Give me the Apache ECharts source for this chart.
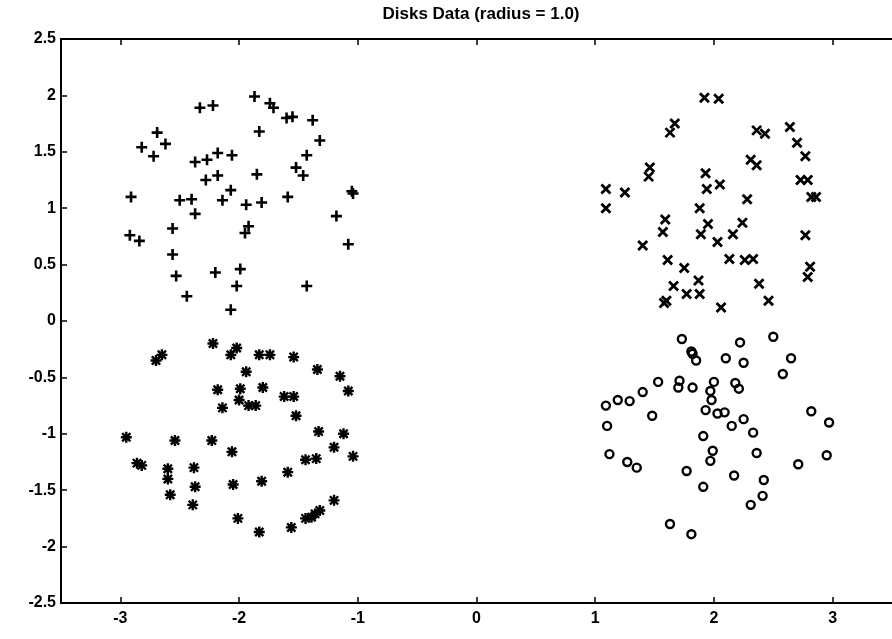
<!DOCTYPE html>
<html>
<head>
<meta charset="utf-8">
<script src="https://cdn.jsdelivr.net/npm/echarts@6/dist/echarts.min.js"></script>
<style>
html,body{margin:0;padding:0;background:#fff;}
#c{width:892px;height:639px;}
</style>
</head>
<body>
<div id="c"></div>
<script>
const titleText = 'Disks Data (radius = 1.0)';
const xTicks = [-3, -2, -1, 0, 1, 2, 3];
const yTicks = [-2.5, -2, -1.5, -1, -0.5, 0, 0.5, 1, 1.5, 2, 2.5];

// upper-left disk, "+" markers
const plusData = [
  [-1.87,1.99],[-2.33,1.89],[-2.22,1.91],[-1.74,1.93],[-1.71,1.89],[-1.60,1.80],[-1.55,1.81],[-1.38,1.78],
  [-2.69,1.67],[-1.83,1.68],[-2.62,1.57],[-2.82,1.54],[-1.32,1.60],[-2.72,1.46],[-2.37,1.41],[-2.27,1.43],
  [-2.18,1.49],[-2.06,1.47],[-1.43,1.47],[-1.52,1.36],[-1.46,1.29],[-1.85,1.30],[-2.18,1.29],[-2.28,1.25],
  [-2.07,1.16],[-1.05,1.15],[-1.04,1.13],[-2.91,1.10],[-2.50,1.07],[-2.40,1.08],[-2.14,1.07],[-1.94,1.03],
  [-1.81,1.05],[-1.59,1.10],[-2.37,0.95],[-1.18,0.93],[-2.56,0.82],[-1.92,0.84],[-1.95,0.78],[-2.92,0.76],
  [-2.84,0.71],[-1.08,0.68],[-2.56,0.59],[-2.53,0.40],[-2.20,0.43],[-1.99,0.46],[-2.02,0.31],[-1.43,0.31],
  [-2.44,0.22],[-2.07,0.10]
];

// lower-left disk, "*" markers
const starData = [
  [-2.22,-0.20],[-2.02,-0.24],[-2.07,-0.30],[-2.65,-0.30],[-2.70,-0.35],[-1.83,-0.30],[-1.74,-0.30],[-1.54,-0.32],
  [-1.94,-0.45],[-1.34,-0.43],[-1.15,-0.49],[-2.18,-0.61],[-1.99,-0.60],[-1.80,-0.59],[-2.00,-0.70],[-1.92,-0.75],
  [-1.86,-0.75],[-1.62,-0.67],[-1.54,-0.67],[-1.08,-0.62],[-2.14,-0.77],[-1.52,-0.84],[-1.33,-0.98],[-1.12,-1.00],
  [-2.95,-1.03],[-2.54,-1.06],[-2.23,-1.06],[-2.06,-1.16],[-1.20,-1.12],[-1.04,-1.20],[-2.86,-1.26],[-2.82,-1.28],
  [-1.44,-1.23],[-1.35,-1.22],[-2.60,-1.31],[-2.60,-1.40],[-2.38,-1.30],[-1.59,-1.34],[-1.81,-1.42],[-2.37,-1.47],
  [-2.05,-1.45],[-2.58,-1.54],[-2.39,-1.63],[-1.20,-1.59],[-2.01,-1.75],[-1.83,-1.87],[-1.56,-1.83],[-1.44,-1.75],
  [-1.39,-1.74],[-1.32,-1.68],[-1.36,-1.71]
];

// upper-right disk, "x" markers
const crossData = [
  [1.92,1.98],[2.04,1.97],[1.67,1.75],[1.63,1.67],[2.36,1.69],[2.43,1.66],[2.64,1.72],[2.70,1.58],
  [2.77,1.46],[1.46,1.36],[1.45,1.28],[2.31,1.43],[2.36,1.38],[1.93,1.31],[2.73,1.25],[2.79,1.25],
  [1.09,1.17],[1.25,1.14],[1.94,1.17],[2.05,1.21],[2.82,1.10],[2.86,1.10],[1.09,1.00],[1.88,1.00],
  [2.28,1.08],[1.59,0.90],[1.57,0.79],[1.95,0.86],[1.89,0.77],[2.24,0.87],[2.16,0.77],[2.03,0.70],
  [2.77,0.76],[1.40,0.67],[1.61,0.54],[2.13,0.55],[2.26,0.54],[2.33,0.55],[1.75,0.47],[1.66,0.31],
  [1.87,0.36],[1.77,0.24],[1.88,0.24],[1.60,0.18],[2.06,0.12],[2.38,0.33],[2.46,0.18],[2.81,0.48],
  [2.79,0.39],[1.58,0.16]
];

// lower-right disk, "o" markers
const circleData = [
  [1.73,-0.16],[2.22,-0.19],[2.50,-0.14],[1.81,-0.27],[1.82,-0.29],[1.85,-0.35],[2.10,-0.33],[2.25,-0.37],
  [2.65,-0.33],[2.58,-0.47],[1.53,-0.54],[1.71,-0.53],[1.70,-0.59],[1.82,-0.59],[2.00,-0.54],[2.18,-0.55],
  [2.21,-0.60],[1.40,-0.63],[1.97,-0.62],[1.19,-0.70],[1.29,-0.71],[1.09,-0.75],[1.98,-0.70],[1.93,-0.79],
  [2.03,-0.82],[2.09,-0.81],[1.48,-0.84],[2.82,-0.80],[2.25,-0.87],[2.15,-0.93],[2.97,-0.90],[1.10,-0.93],
  [2.33,-0.99],[1.91,-1.02],[1.99,-1.15],[1.97,-1.24],[2.36,-1.17],[1.12,-1.18],[1.27,-1.25],[1.35,-1.30],
  [1.77,-1.33],[2.71,-1.27],[2.95,-1.19],[2.17,-1.37],[2.42,-1.41],[1.91,-1.47],[2.41,-1.55],[2.31,-1.63],
  [1.63,-1.80],[1.81,-1.89]
];

const chart = echarts.init(document.getElementById('c'), null, {renderer: 'canvas'});
const FONT = 'Liberation Sans';
const black = '#000';
const hollow = 'rgba(0,0,0,0)';

function xAxisCfg(pos, showLabel) {
  return {
    type: 'value', position: pos, min: -3.5, max: 3.5,
    axisLine: {show: true, onZero: false, lineStyle: {color: black, width: 2}},
    axisTick: {show: true, inside: true, length: 6, customValues: xTicks, lineStyle: {color: black, width: 1.5}},
    axisLabel: {show: showLabel, customValues: xTicks, color: black, fontFamily: FONT, fontSize: 16, fontWeight: 'bold', margin: 8},
    splitLine: {show: false}
  };
}
function yAxisCfg(pos, showLabel) {
  return {
    type: 'value', position: pos, min: -2.5, max: 2.5, interval: 0.5,
    axisLine: {show: true, onZero: false, lineStyle: {color: black, width: 2}},
    axisTick: {show: true, inside: true, length: 6, lineStyle: {color: black, width: 1.5}},
    axisLabel: {show: showLabel, color: black, fontFamily: FONT, fontSize: 16, fontWeight: 'bold', margin: 5},
    splitLine: {show: false}
  };
}

function markerSeries(name, data, symbol, size, width) {
  return {
    name: name, type: 'scatter', data: data, symbol: symbol, symbolSize: size,
    xAxisIndex: 0, yAxisIndex: 0,
    itemStyle: {color: hollow, borderColor: black, borderWidth: width, opacity: 1},
    emphasis: {disabled: true}, animation: false
  };
}

chart.setOption({
  backgroundColor: '#fff',
  animation: false,
  graphic: [{
    type: 'text', x: 481, y: 14, silent: true,
    style: {text: titleText, align: 'center', verticalAlign: 'middle', fill: black,
            font: 'bold 17px "Liberation Sans"'}
  }],
  grid: {left: 61, right: -9, top: 39, bottom: 36, containLabel: false},
  xAxis: [xAxisCfg('bottom', true), xAxisCfg('top', false)],
  yAxis: [yAxisCfg('left', true)],
  series: [
    markerSeries('plus', plusData, 'path://M0,-1L0,1M-1,0L1,0', 11, 2.6),
    markerSeries('star', starData, 'path://M-1,0L1,0M0,-1L0,1M-0.75,-0.75L0.75,0.75M-0.75,0.75L0.75,-0.75', 11, 2.4),
    markerSeries('cross', crossData, 'path://M-1,-1L1,1M-1,1L1,-1', 9, 2.8),
    markerSeries('circle', circleData, 'circle', 8, 2.4)
  ]
});
</script>
</body>
</html>
